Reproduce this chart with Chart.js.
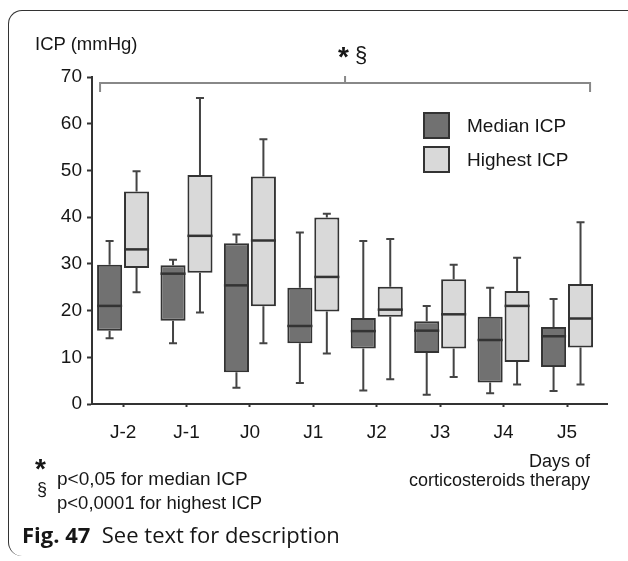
<!DOCTYPE html>
<html>
<head>
<meta charset="utf-8">
<script src="https://cdn.jsdelivr.net/npm/chart.js@4.4.1/dist/chart.umd.min.js"></script>
<style>
    body { margin: 0; background: #fff; }
    #wrap { position: relative; width: 628px; height: 561px; overflow: hidden; font-family: "Liberation Sans", Arial, sans-serif; color: #161616; }
    #frame { position: absolute; left: 8px; top: 10px; width: 660px; height: 545px; border-top: 1.5px solid #333; border-left: 1.5px solid #333; border-radius: 14px 0 0 14px; }
    #icpChart { position: absolute; left: 0; top: 0; }
    .t { position: absolute; white-space: nowrap; line-height: 1; }
</style>
</head>
<body>
<div id="wrap">
    <div id="frame"></div>
    <canvas id="icpChart" width="628" height="561"></canvas>
    <div class="t" style="left:35px;top:35px;font-size:18.5px;">ICP (mmHg)</div>
    <div class="t" style="left:338px;top:39px;font-size:22px;"><b style="font-size:28px;position:relative;top:4px;">*</b> §</div>
    <div class="t" style="right:38px;top:452px;font-size:18px;text-align:right;">Days of</div>
    <div class="t" style="right:38px;top:471px;font-size:18px;text-align:right;">corticosteroids therapy</div>
    <div class="t" style="left:35px;top:455px;font-size:28px;font-weight:bold;">*</div>
    <div class="t" style="left:57px;top:469px;font-size:19px;">p&lt;0,05 for median ICP</div>
    <div class="t" style="left:37px;top:480px;font-size:18px;">§</div>
    <div class="t" style="left:57px;top:494px;font-size:18.5px;">p&lt;0,0001 for highest ICP</div>
    <div class="t" style="left:22px;top:523px;font-size:22px;font-family:'Open Sans',sans-serif;"><b>Fig. 47</b>&nbsp; See text for description</div>
</div>
<script>
    const days = ['J-2', 'J-1', 'J0', 'J1', 'J2', 'J3', 'J4', 'J5'];

    const medianMin = [14.1, 13.0, 3.5, 4.5, 2.9, 2.0, 2.3, 2.8];
    const medianQ1 = [15.7, 17.8, 6.8, 13.0, 11.9, 10.9, 4.6, 7.9];
    const medianMid = [21.0, 27.9, 25.4, 16.7, 15.6, 15.7, 13.7, 14.5];
    const medianQ3 = [29.8, 29.7, 34.4, 24.9, 18.4, 17.7, 18.7, 16.5];
    const medianMax = [34.9, 30.9, 36.3, 36.7, 34.9, 21.0, 24.9, 22.5];

    const highestMin = [23.9, 19.6, 13.0, 10.8, 5.3, 5.8, 4.2, 4.2];
    const highestQ1 = [29.1, 28.1, 20.9, 19.8, 18.7, 11.9, 9.0, 12.1];
    const highestMid = [33.1, 36.0, 35.0, 27.2, 20.2, 19.2, 21.0, 18.3];
    const highestQ3 = [45.5, 49.0, 48.7, 39.9, 25.1, 26.7, 24.2, 25.7];
    const highestMax = [49.8, 65.5, 56.7, 40.7, 35.3, 29.8, 31.3, 38.9];

    const yTicks = [0, 10, 20, 30, 40, 50, 60, 70];
    const bracketValue = 68.7;

    function boxData(q1, q3) {
        return days.map((d, i) => ({ x: i, y: [q1[i], q3[i]] }));
    }

    // whiskers behind the boxes, medians on top, bracket + legend last
    const boxPlotPlugin = {
        id: 'boxPlot',
        beforeDatasetsDraw(chart) {
            const ctx = chart.ctx;
            const y = chart.scales.y;
            ctx.save();
            ctx.strokeStyle = '#444';
            ctx.lineWidth = 2;
            chart.data.datasets.forEach((ds, di) => {
                chart.getDatasetMeta(di).data.forEach((el, i) => {
                    const x = el.x;
                    const segs = [[ds.whiskerMax[i], ds.q3[i]], [ds.whiskerMin[i], ds.q1[i]]];
                    segs.forEach(([end, start]) => {
                        ctx.beginPath();
                        ctx.moveTo(x, y.getPixelForValue(start));
                        ctx.lineTo(x, y.getPixelForValue(end));
                        ctx.moveTo(x - 4, y.getPixelForValue(end));
                        ctx.lineTo(x + 4, y.getPixelForValue(end));
                        ctx.stroke();
                    });
                });
            });
            ctx.restore();
        },
        afterDatasetsDraw(chart) {
            const ctx = chart.ctx;
            const y = chart.scales.y;
            ctx.save();
            ctx.strokeStyle = '#333';
            ctx.lineWidth = 2.5;
            chart.data.datasets.forEach((ds, di) => {
                chart.getDatasetMeta(di).data.forEach((el, i) => {
                    const py = y.getPixelForValue(ds.mid[i]);
                    ctx.beginPath();
                    ctx.moveTo(el.x - el.width / 2, py);
                    ctx.lineTo(el.x + el.width / 2, py);
                    ctx.stroke();
                });
            });

            // significance bracket over all days
            const first = chart.getDatasetMeta(0).data[0];
            const last = chart.getDatasetMeta(1).data[days.length - 1];
            const left = first.x - first.width / 2 + 3;
            const right = last.x + last.width / 2 - 3;
            const by = y.getPixelForValue(bracketValue);
            const mid = (left + right) / 2;
            ctx.strokeStyle = '#888';
            ctx.lineWidth = 2;
            ctx.beginPath();
            ctx.moveTo(left, by + 9);
            ctx.lineTo(left, by);
            ctx.lineTo(right, by);
            ctx.lineTo(right, by + 9);
            ctx.moveTo(mid, by);
            ctx.lineTo(mid, by - 7);
            ctx.stroke();

            // legend
            ctx.font = '19px "Liberation Sans", Arial, sans-serif';
            ctx.textBaseline = 'middle';
            chart.data.datasets.forEach((ds, di) => {
                const top = 113 + di * 34;
                ctx.fillStyle = ds.backgroundColor;
                ctx.fillRect(424, top, 25, 25);
                ctx.strokeStyle = '#333';
                ctx.lineWidth = 2;
                ctx.strokeRect(424, top, 25, 25);
                ctx.fillStyle = '#161616';
                ctx.fillText(ds.label, 467, top + 14);
            });
            ctx.restore();
        }
    };

    function initChart() {
        const canvas = document.getElementById('icpChart');
        if (!canvas || !window.Chart) return;

        new Chart(canvas.getContext('2d'), {
            type: 'bar',
            data: {
                datasets: [{
                    label: 'Median ICP',
                    data: boxData(medianQ1, medianQ3),
                    q1: medianQ1, q3: medianQ3, mid: medianMid,
                    whiskerMin: medianMin, whiskerMax: medianMax,
                    backgroundColor: '#717171',
                    borderColor: '#333',
                    borderWidth: 2,
                    borderSkipped: false
                }, {
                    label: 'Highest ICP',
                    data: boxData(highestQ1, highestQ3),
                    q1: highestQ1, q3: highestQ3, mid: highestMid,
                    whiskerMin: highestMin, whiskerMax: highestMax,
                    backgroundColor: '#d9d9d9',
                    borderColor: '#333',
                    borderWidth: 2,
                    borderSkipped: false
                }]
            },
            options: {
                responsive: false,
                animation: false,
                categoryPercentage: 0.85,
                barPercentage: 0.93,
                layout: { padding: { top: 77, right: 21, left: 0, bottom: 0 } },
                plugins: {
                    legend: { display: false },
                    tooltip: { enabled: false }
                },
                scales: {
                    x: {
                        type: 'linear',
                        offset: false,
                        min: -0.49,
                        max: 7.63,
                        afterFit(scale) { scale.height = 157; },
                        border: { display: true, color: '#333', width: 2 },
                        grid: { display: true, offset: false, drawOnChartArea: false, drawTicks: true, tickLength: 3, tickColor: '#333', tickWidth: 2 },
                        ticks: {
                            stepSize: 1,
                            includeBounds: false,
                            padding: 14,
                            color: '#161616',
                            font: { size: 19, family: '"Liberation Sans", Arial, sans-serif' },
                            callback: (v) => days[v] !== undefined ? days[v] : ''
                        }
                    },
                    y: {
                        min: yTicks[0],
                        max: yTicks[yTicks.length - 1],
                        afterFit(scale) { scale.width = 92; },
                        border: { display: true, color: '#333', width: 2 },
                        grid: { display: true, drawOnChartArea: false, drawTicks: true, tickLength: 5, tickColor: '#333', tickWidth: 2 },
                        ticks: {
                            stepSize: 5,
                            padding: 5,
                            color: '#161616',
                            font: { size: 19, family: '"Liberation Sans", Arial, sans-serif' },
                            callback: (v) => yTicks.includes(v) ? String(v) : ''
                        }
                    }
                }
            },
            plugins: [boxPlotPlugin]
        });
    }

    document.addEventListener('DOMContentLoaded', initChart);
</script>
</body>
</html>
